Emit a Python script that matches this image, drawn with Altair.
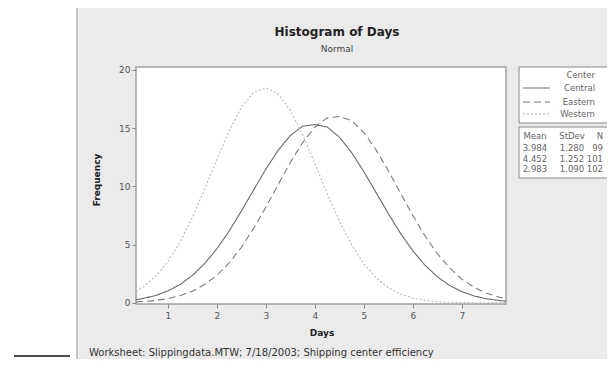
import altair as alt
import pandas as pd

# ---- data ----
days = [0.35, 0.5, 0.75, 1.0, 1.25, 1.5, 1.75, 2.0, 2.25, 2.5, 2.75, 3.0, 3.25, 3.5, 3.75,
        4.0, 4.25, 4.5, 4.75, 5.0, 5.25, 5.5, 5.75, 6.0, 6.25, 6.5, 6.75, 7.0, 7.25, 7.5, 7.75, 7.9]
central = [0.27, 0.38, 0.63, 1.02, 1.58, 2.35, 3.37, 4.64, 6.16, 7.88, 9.69, 11.48, 13.09, 14.37, 15.17,
           15.3, 15.1, 14.23, 12.9, 11.26, 9.46, 7.65, 5.96, 4.46, 3.22, 2.23, 1.49, 0.96, 0.59, 0.35, 0.2, 0.14]
eastern = [0.08, 0.11, 0.2, 0.36, 0.61, 1.0, 1.57, 2.37, 3.42, 4.77, 6.39, 8.21, 10.15, 12.05, 13.76,
           15.08, 15.88, 16.0, 15.64, 14.62, 13.13, 11.34, 9.4, 7.49, 5.74, 4.22, 2.99, 2.03, 1.32, 0.83, 0.5, 0.35]
western = [1.0, 1.38, 2.27, 3.54, 5.23, 7.33, 9.75, 12.32, 14.76, 16.77, 18.08, 18.45, 17.95, 16.53, 14.44,
           11.97, 9.41, 7.02, 4.97, 3.34, 2.13, 1.29, 0.74, 0.4, 0.21, 0.1, 0.05, 0.02, 0.01, 0.0, 0.0, 0.0]
centers = ["Central", "Eastern", "Western"]
means = ["3.984", "4.452", "2.983"]
stdevs = ["1.280", "1.252", "1.090"]
ns = ["99", "101", "102"]
x_ticks = [1, 2, 3, 4, 5, 6, 7]
y_ticks = [0, 5, 10, 15, 20]

title_text = "Histogram of Days"
subtitle_text = "Normal"
footnote = "Worksheet: Slippingdata.MTW; 7/18/2003; Shipping center efficiency"

rows = []
for name, vals in zip(centers, [central, eastern, western]):
    for d, v in zip(days, vals):
        rows.append({"Days": d, "Frequency": v, "Center": name})
df = pd.DataFrame(rows)

W, H = 370, 237
FONT = "DejaVu Sans"
one = pd.DataFrame({"a": [0]})
line_colors = ["#6a6a6a", "#7c7c7c", "#b8b8b8"]
line_dashes = [[1, 0], [7, 4], [2, 2]]

def rect(x, x2, y, y2, fill, stroke=None, sw=0):
    kw = dict(fill=fill)
    if stroke:
        kw.update(stroke=stroke, strokeWidth=sw)
    return alt.Chart(one).mark_rect(**kw).encode(
        x=alt.value(x), x2=alt.value(x2), y=alt.value(y), y2=alt.value(y2))

def text(t, x, y, size=8.5, bold=False, align="center", color="#666", angle=0):
    kw = dict(font=FONT, fontSize=size, align=align, baseline="middle", color=color)
    if bold:
        kw["fontWeight"] = "bold"
    if angle:
        kw["angle"] = angle
    return alt.Chart(pd.DataFrame({"t": [t]})).mark_text(**kw).encode(
        x=alt.value(x), y=alt.value(y), text="t:N")

layers = []
# grey outer panel and white plot area
layers.append(rect(-59, 490, -61, 320, "#ebebeb", "#c4c4c4", 2))
layers.append(rect(0, W, 0, H, "#ffffff", "#a0a0a0", 1.5))
# left black line
layers.append(alt.Chart(one).mark_rule(color="#111", strokeWidth=1.5).encode(
    x=alt.value(-122), x2=alt.value(-66), y=alt.value(289)))

# curves
lines = alt.Chart(df).mark_line(strokeWidth=1.1).encode(
    x=alt.X("Days:Q", scale=alt.Scale(domain=[0.35, 7.9], nice=False, zero=False),
            axis=alt.Axis(values=x_ticks, title="", grid=False, domain=False, tickSize=4,
                          labelFontSize=9, labelColor="#555", tickColor="#888", labelFont=FONT,
                          labelPadding=3, zindex=1)),
    y=alt.Y("Frequency:Q", scale=alt.Scale(domain=[-0.1, 20.25], nice=False, zero=False),
            axis=alt.Axis(values=y_ticks, title="", grid=False, domain=False, tickSize=4,
                          labelFontSize=9, labelColor="#555", tickColor="#888", labelFont=FONT,
                          labelPadding=2, zindex=1)),
    color=alt.Color("Center:N", scale=alt.Scale(domain=centers, range=line_colors), legend=None),
    strokeDash=alt.StrokeDash("Center:N", scale=alt.Scale(domain=centers, range=line_dashes), legend=None),
    detail="Center:N",
)
layers.append(lines)

# titles
layers.append(text(title_text, 201, -35, size=12, bold=True, color="#222"))
layers.append(text(subtitle_text, 201, -18, size=9, color="#444"))
layers.append(text("Frequency", -39, 113, size=9, bold=True, color="#222", angle=270))
layers.append(text("Days", 186, 266, size=9, bold=True, color="#222"))
layers.append(text(footnote, -47, 286, size=10, align="left", color="#333"))

# legend box
layers.append(rect(383, 474, 0, 56, "#ffffff", "#888", 1))
layers.append(text("Center", 459, 8, align="right"))
legend_y = [21, 35, 47]
for name, yy, dsh, col in zip(centers, legend_y, line_dashes, line_colors):
    layers.append(alt.Chart(one).mark_rule(color=col, strokeWidth=1.1, strokeDash=dsh).encode(
        x=alt.value(387), x2=alt.value(414), y=alt.value(yy)))
    layers.append(text(name, 459, yy, align="right"))

# stats box
layers.append(rect(383, 474, 60, 111, "#ffffff", "#888", 1))
layers.append(text("Mean", 399, 69))
layers.append(text("StDev", 436, 69))
layers.append(text("N", 467, 69, align="right"))
for yy, m, s, n in zip([81, 92, 102], means, stdevs, ns):
    layers.append(text(m, 399, yy))
    layers.append(text(s, 436, yy))
    layers.append(text(n, 467, yy, align="right"))

chart = alt.layer(*layers).properties(
    width=W, height=H,
    autosize=alt.AutoSizeParams(type="none"),
    padding={"left": 128, "top": 59, "right": 101, "bottom": 55},
    background="#ffffff",
).configure_view(stroke=None)

chart.save("out.html", embed_options={"renderer": "svg", "actions": False})
